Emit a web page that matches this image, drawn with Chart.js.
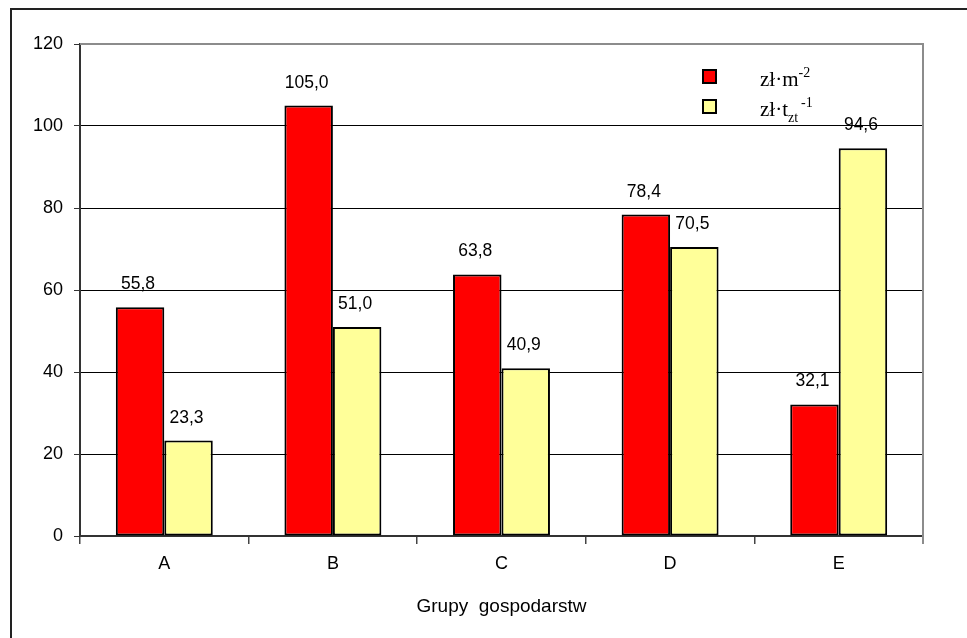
<!DOCTYPE html>
<html>
<head>
<meta charset="utf-8">
<script src="https://cdn.jsdelivr.net/npm/chart.js@4/dist/chart.umd.min.js"></script>
<style>
  html, body { margin: 0; padding: 0; background: #fff; }
  #wrap { position: relative; width: 967px; height: 638px; overflow: hidden; }
  #frame { position: absolute; left: 10px; top: 8px; width: 1000px; height: 700px; border: 2px solid #222; box-sizing: border-box; pointer-events: none; }
  canvas { position: absolute; left: 0; top: 0; }
</style>
</head>
<body>
<div id="wrap">
  <canvas id="c" width="967" height="638"></canvas>
  <div id="frame"></div>
</div>
<script>
// Groups of farms and the two cost indicators
const categories = ['A', 'B', 'C', 'D', 'E'];
const perArea = [55.8, 105.0, 63.8, 78.4, 32.1];     // zł·m⁻²
const perTonne = [23.3, 51.0, 40.9, 70.5, 94.6];     // zł·t_zt⁻¹
const yTicks = [0, 20, 40, 60, 80, 100, 120];

const SANS = '"Liberation Sans", Arial, sans-serif';
const SERIF = '"Liberation Serif", "Times New Roman", serif';

const perAreaColor = '#ff0000';
const perTonneColor = '#ffff99';

// Plot frame (gray top/right edge)
const plotFrame = {
  id: 'plotFrame',
  afterDatasetsDraw(chart) {
    const { ctx, chartArea: a } = chart;
    ctx.save();
    ctx.strokeStyle = '#8c8c8c';
    ctx.lineWidth = 2;
    ctx.beginPath();
    ctx.moveTo(a.left, a.top);
    ctx.lineTo(a.right, a.top);
    ctx.lineTo(a.right, a.bottom + 8);
    ctx.stroke();
    ctx.restore();
  }
};

// Value labels above each bar
const valueLabels = {
  id: 'valueLabels',
  afterDatasetsDraw(chart) {
    const { ctx } = chart;
    ctx.save();
    ctx.font = '17.5px ' + SANS;
    ctx.fillStyle = '#000';
    ctx.textAlign = 'center';
    ctx.textBaseline = 'bottom';
    chart.data.datasets.forEach((ds, i) => {
      chart.getDatasetMeta(i).data.forEach((bar, j) => {
        const txt = ds.data[j].toFixed(1).replace('.', ',');
        ctx.fillText(txt, bar.x - 2, bar.y - 14);
      });
    });
    ctx.restore();
  }
};

// Legend with super/subscripted unit labels
const unitLegend = {
  id: 'unitLegend',
  afterDraw(chart) {
    const { ctx } = chart;
    const items = [
      { color: perAreaColor, y: 76, parts: [['zł·m', 0, 21], ['-2', -9, 14]] },
      { color: perTonneColor, y: 106, parts: [['zł·t', 0, 21], ['zt', 6, 14], ['-1', -9, 14]] }
    ];
    ctx.save();
    items.forEach(it => {
      ctx.fillStyle = it.color;
      ctx.fillRect(703, it.y - 6, 13, 13);
      ctx.strokeStyle = '#000';
      ctx.lineWidth = 2;
      ctx.strokeRect(703, it.y - 6, 13, 13);
      ctx.fillStyle = '#000';
      ctx.textBaseline = 'alphabetic';
      ctx.textAlign = 'left';
      let x = 760;
      const base = it.y + 10;
      it.parts.forEach(([t, dy, size]) => {
        ctx.font = size + 'px ' + SERIF;
        ctx.fillText(t, x, base + dy);
        x += ctx.measureText(t).width + (t === 'zt' ? 3 : 0);
      });
    });
    ctx.restore();
  }
};

new Chart(document.getElementById('c'), {
  type: 'bar',
  data: {
    labels: categories,
    datasets: [
      { label: 'zł·m-2', data: perArea, backgroundColor: perAreaColor, borderColor: '#000', borderWidth: 2, borderSkipped: false,
        categoryPercentage: 0.575, barPercentage: 1.0 },
      { label: 'zł·t-1', data: perTonne, backgroundColor: perTonneColor, borderColor: '#000', borderWidth: 2, borderSkipped: false,
        categoryPercentage: 0.575, barPercentage: 1.0 }
    ]
  },
  options: {
    responsive: false,
    animation: false,
    layout: { padding: { left: 0, top: 44, right: 44, bottom: 0 } },
    plugins: { legend: { display: false }, tooltip: { enabled: false } },
    scales: {
      x: {
        afterFit(s) { s.height = 102; },
        grid: { offset: true, drawOnChartArea: false, drawTicks: true, tickLength: 8, color: '#444', lineWidth: 1.5 },
        border: { color: '#333', width: 2 },
        ticks: { color: '#000', font: { family: SANS, size: 18 }, padding: 9 },
        title: { display: true, text: 'Grupy  gospodarstw', color: '#000', font: { family: SANS, size: 19 }, padding: { top: 14, bottom: 20 } }
      },
      y: {
        min: 0, max: 120,
        afterFit(s) { s.width = 80; },
        afterBuildTicks(s) { s.ticks = yTicks.map(v => ({ value: v })); },
        grid: { color: '#000', lineWidth: 1, drawTicks: true, tickLength: 6, tickColor: '#333' },
        border: { color: '#333', width: 2 },
        ticks: { color: '#000', font: { family: SANS, size: 18 }, padding: 11 }
      }
    }
  },
  plugins: [plotFrame, valueLabels, unitLegend]
});
</script>
</body>
</html>
